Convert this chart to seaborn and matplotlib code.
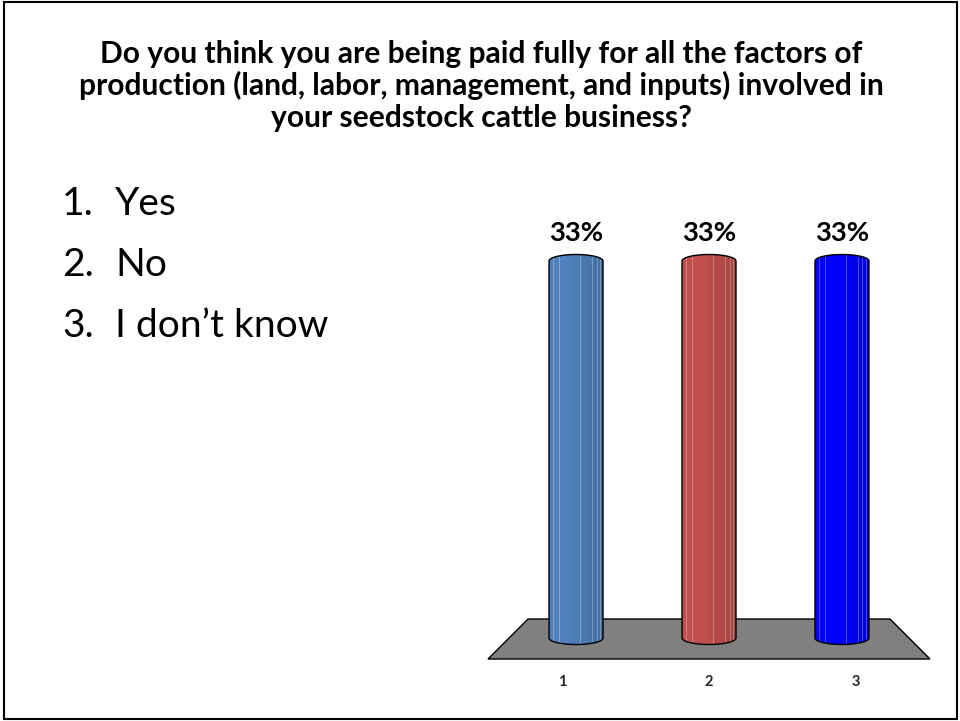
import numpy as np
import pandas as pd
import matplotlib
matplotlib.use("Agg")
import matplotlib.pyplot as plt
from matplotlib.patches import Polygon, Rectangle
import seaborn as sns

# ---- data ----
title_lines = [
    "Do you think you are being paid fully for all the factors of",
    "production (land, labor, management, and inputs) involved in",
    "your seedstock cattle business?",
]
answer_numbers = ["1.", "2.", "3."]
answers = ["Yes", "No", "I don\u2019t know"]
categories = ["1", "2", "3"]
percentages = [33, 33, 33]
bar_colors = ["#4F81BD", "#C0504D", "#0000FF"]

sns.set_style("white")
plt.rcParams["font.family"] = ["Lato", "DejaVu Sans"]

W, H = 960, 721
fig = plt.figure(figsize=(W / 100, H / 100), dpi=100)
fig.patch.set_facecolor("white")


def fx(px):
    return px / W


def fy(py):
    return 1 - py / H


def fit_width(texts, ref, target_px):
    r = fig.canvas.get_renderer()
    w = ref.get_window_extent(r).width
    size = ref.get_fontsize() * target_px / w
    for t in texts:
        t.set_fontsize(size)


# slide frame
fig.add_artist(Rectangle((fx(4), fy(719)), fx(953), fy(2) - fy(719),
                         transform=fig.transFigure, fill=False,
                         edgecolor="black", linewidth=1.5))

# question
tt = []
for i, line in enumerate(title_lines):
    tt.append(fig.text(fx(481), fy(63 + 32 * i), line, ha="center", va="baseline",
                       fontsize=20, fontweight="bold", color="black"))
fit_width(tt, tt[1], 805)

# answer list
nums, items = [], []
for i, (n, a) in enumerate(zip(answer_numbers, answers)):
    nums.append(fig.text(fx(62), fy(215 + 61 * i), n, ha="left", va="baseline",
                         fontsize=30, color="black"))
    items.append(fig.text(fx(115), fy(215 + 61 * i), a, ha="left", va="baseline",
                          fontsize=30, color="black"))
fit_width(nums + items, items[2], 213)

# ---- chart ----
base_px, top_px = 638, 261          # bar foot / bar top in pixels for the value
ax_top_px, ax_bot_px = 200, 660
ax = fig.add_axes([fx(488), fy(ax_bot_px), fx(930) - fx(488), fy(ax_top_px) - fy(ax_bot_px)])
ax.set_facecolor("none")

df = pd.DataFrame({"option": categories, "pct": percentages})
sns.barplot(data=df, x="option", y="pct", hue="option", palette=bar_colors,
            width=0.406, saturation=1, legend=False, linewidth=0, ax=ax)

ppu = (base_px - top_px) / max(percentages)   # pixels per data unit (y)
ymax = (base_px - ax_top_px) / ppu
ymin = -(ax_bot_px - base_px) / ppu
ax.set_xlim(-0.662, 2.662)
ax.set_ylim(ymin, ymax)
eh = 13 / ppu                                  # ellipse height of cylinder caps

# floor plane
floor_px = [(528, 619), (890, 619), (930, 659), (488, 659)]
ax.add_patch(Polygon([(fx(x), fy(y)) for x, y in floor_px], closed=True,
                     transform=fig.transFigure, facecolor="#808080",
                     edgecolor="black", linewidth=1.0, zorder=0.5, clip_on=False))

stripes = [0.08, 0.18, 0.57, 0.80, 0.88, 0.94]
bars = [p for c in ax.containers for p in c]
for bar, col in zip(bars, bar_colors):
    x0, w, h = bar.get_x(), bar.get_width(), bar.get_height()
    cx = x0 + w / 2
    t_top = np.linspace(np.pi, 0, 60)
    t_bot = np.linspace(0, -np.pi, 60)
    pts = np.vstack([
        np.column_stack([cx + w / 2 * np.cos(t_top), h + eh / 2 * np.sin(t_top)]),
        np.column_stack([cx + w / 2 * np.cos(t_bot), eh / 2 * np.sin(t_bot)]),
    ])
    body = Polygon(pts, closed=True, facecolor=col, edgecolor="none", zorder=2)
    ax.add_patch(body)
    # cylindrical shading, darkening towards the right side
    u = np.linspace(0, 1, 200)
    shade = np.interp(u, [0, 0.3, 0.6, 1.0], [0.98, 1.01, 0.95, 0.84])
    rgb = np.array(matplotlib.colors.to_rgb(col))
    img = np.clip(rgb[None, :] * shade[:, None], 0, 1)[None, :, :]
    im = ax.imshow(img, extent=(x0, x0 + w, -eh, h + eh), aspect="auto",
                   interpolation="bilinear", zorder=2.1)
    im.set_clip_path(body)
    for s in stripes:
        ln = ax.plot([x0 + s * w] * 2, [-eh, h + eh], color="white", alpha=0.28,
                     linewidth=0.8, zorder=2.2)[0]
        ln.set_clip_path(body)
    ax.add_patch(Polygon(pts, closed=True, facecolor="none", edgecolor="black",
                         linewidth=1.0, zorder=2.3))

labels = []
for cont in ax.containers:
    labels += ax.bar_label(cont, fmt="%.0f%%", padding=20 * 72 / 100,
                           fontweight="bold", fontsize=20, color="black")
for t in labels:
    t.set_va("baseline")
    t.set_zorder(3)
fit_width(labels, labels[0], 54)

# category labels along the front edge of the floor
centre = 1
tick_pos = [centre + (i - centre) * 1.105 for i in range(len(categories))]
ax.set_xticks(tick_pos, categories)
ax.tick_params(axis="x", length=0, pad=15 * 72 / 100, labelsize=10.5)
for t in ax.get_xticklabels():
    t.set_fontweight("bold")
ax.set_yticks([])
ax.set_xlabel("")
ax.set_ylabel("")
for sp in ax.spines.values():
    sp.set_visible(False)

fig.savefig("out.png", dpi=100)
